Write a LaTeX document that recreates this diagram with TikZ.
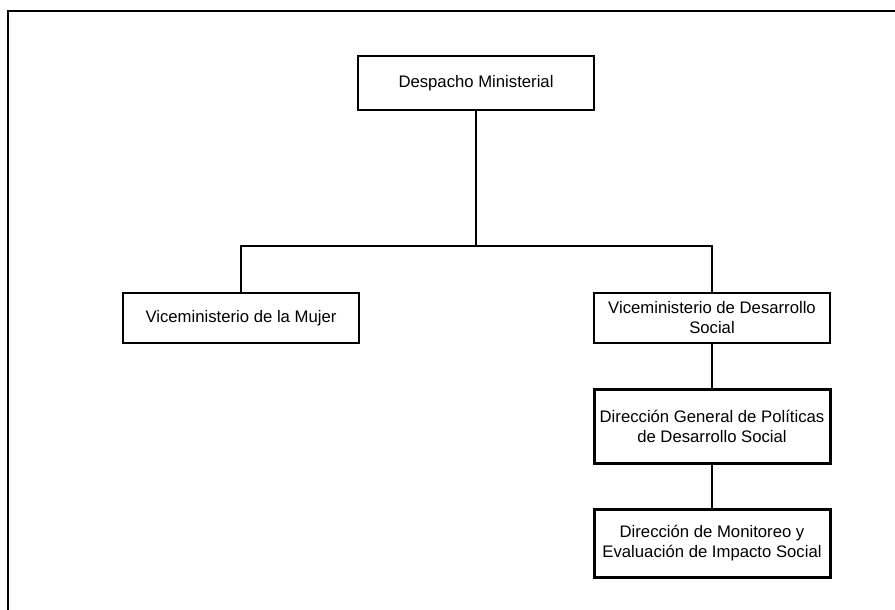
\documentclass[tikz,border=0pt]{standalone}
\usepackage{fontspec}
\setmainfont{Liberation Sans}
\begin{document}
\begin{tikzpicture}[x=1pt,y=-1pt,
  unit/.style={draw=black, line width=2pt, minimum width=236pt, align=center, inner sep=2pt,
    font=\fontsize{16.7}{20}\selectfont},
  thickunit/.style={unit, line width=3pt},
  link/.style={draw=black, line width=2.2pt}]
\useasboundingbox (0,0) rectangle (895,610);
\coordinate (fa) at (8,610);
\coordinate (fb) at (8,11);
\coordinate (fc) at (895,11);
\draw[line width=2pt] (fa) -- (fb) -- (fc);
\node[unit, minimum height=54pt] (dm) at (476,83) {Despacho Ministerial};
\node[unit, minimum height=50pt] (vm) at (241,318) {Viceministerio de la Mujer};
\node[unit, minimum height=50pt] (vds) at (712,318) {Viceministerio de Desarrollo\\Social};
\node[thickunit, minimum height=74pt] (dg) at (712,426) {Dirección General de Políticas\\de Desarrollo Social};
\node[thickunit, minimum height=68pt] (dme) at (712,543) {Dirección de Monitoreo y\\Evaluación de Impacto Social};
\coordinate (j) at (476,246);
\draw[link] (dm.south) -- (j);
\draw[link] (vm.north) |- (j) -| (vds.north);
\draw[link] (vds.south) -- (dg.north);
\draw[link] (dg.south) -- (dme.north);
\end{tikzpicture}
\end{document}
